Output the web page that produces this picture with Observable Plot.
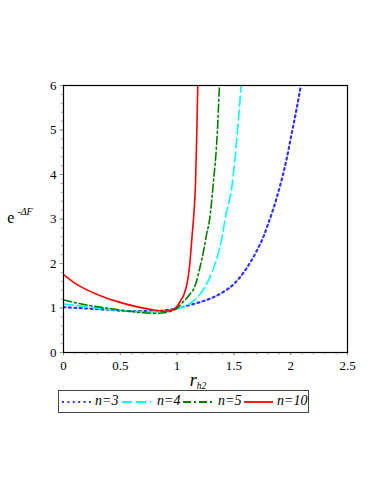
<!DOCTYPE html>
<html>
<head>
<meta charset="utf-8">
<script src="https://cdn.jsdelivr.net/npm/d3@7"></script>
<script src="https://cdn.jsdelivr.net/npm/@observablehq/plot@0.6"></script>
<style>
  html, body { margin: 0; padding: 0; background: #fff; }
  #wrap { position: relative; width: 382px; height: 494px; font-family: 'Liberation Serif', serif; }
  #legend { position: absolute; left: 58px; top: 390px; width: 251px; height: 23px; border: 1px solid #444; box-sizing: border-box; font-style: italic; font-size: 14px; font-family: 'Liberation Serif', serif; }
  #legend .sw { position: absolute; top: 6px; display: block; }
  #legend .lb { position: absolute; top: 2px; line-height: 16px; white-space: nowrap; }
</style>
</head>
<body>
<div id="wrap"></div>
<script>
// ---- data ----
const seriesNames = ["n=3", "n=4", "n=5", "n=10"];
const seriesColors = ["#3333ff", "#00ffff", "#008000", "#ff0000"];
const seriesDash = ["2,3.4", "10,4", "8,3,2,3", null];

const n3X = [0, 0.2, 0.4, 0.6, 0.8, 0.9, 1.0, 1.1, 1.2, 1.3, 1.4, 1.5, 1.6, 1.7, 1.763, 1.8, 1.85, 1.91, 1.96, 2.007, 2.05, 2.086];
const n3Y = [1.02, 0.99, 0.96, 0.93, 0.93, 0.95, 0.99, 1.06, 1.13, 1.22, 1.35, 1.54, 1.85, 2.28, 2.62, 2.88, 3.25, 3.78, 4.3, 4.9, 5.45, 5.95];

const n4X = [0, 0.2, 0.4, 0.6, 0.8, 0.9, 1.0, 1.06, 1.15, 1.24, 1.31, 1.37, 1.40, 1.42, 1.485, 1.529, 1.564, 1.58];
const n4Y = [1.09, 1.03, 0.97, 0.93, 0.91, 0.93, 0.98, 1.03, 1.17, 1.45, 1.82, 2.3, 2.65, 2.97, 3.78, 4.9, 6.0, 6.5];

const n5X = [0, 0.2, 0.4, 0.6, 0.8, 0.9, 1.0, 1.05, 1.1, 1.165, 1.2, 1.24, 1.259, 1.285, 1.318, 1.353, 1.373, 1.385];
const n5Y = [1.18, 1.07, 0.99, 0.92, 0.88, 0.9, 1.0, 1.13, 1.27, 1.55, 1.9, 2.37, 2.65, 2.97, 3.78, 4.9, 6.0, 6.6];

const n10X = [0, 0.1, 0.22, 0.37, 0.52, 0.66, 0.81, 0.88, 0.95, 1.0, 1.03, 1.06, 1.09, 1.11, 1.133, 1.15, 1.162, 1.173, 1.182, 1.19];
const n10Y = [1.75, 1.56, 1.39, 1.23, 1.11, 1.02, 0.95, 0.93, 0.95, 1.04, 1.16, 1.3, 1.58, 1.95, 2.65, 3.2, 3.78, 4.9, 6.0, 6.8];

const xTicks = [0, 0.5, 1, 1.5, 2, 2.5];
const xTickLabels = ["0", "0.5", "1", "1.5", "2", "2.5"];
const yTicks = [0, 1, 2, 3, 4, 5, 6];
const yTickLabels = ["0", "1", "2", "3", "4", "5", "6"];

// ---- build table ----
const allX = [n3X, n4X, n5X, n10X];
const allY = [n3Y, n4Y, n5Y, n10Y];
const rows = [];
seriesNames.forEach((s, i) => allX[i].forEach((x, j) => rows.push({series: s, x, y: allY[i][j]})));

const minorX = d3.range(0, 2.5001, 0.1).map(v => +v.toFixed(2));
const minorY = d3.range(0, 6.0001, 0.2).map(v => +v.toFixed(2));

const lineMarks = seriesNames.map((s, i) => Plot.line(rows.filter(r => r.series === s), {
  x: "x", y: "y", stroke: seriesColors[i], strokeWidth: i === 0 ? 2.2 : 1.6,
  strokeDasharray: seriesDash[i] || undefined, curve: "monotone-x", clip: true
}));

const serif = "'Liberation Serif', serif";

const chart = Plot.plot({
  width: 382, height: 390,
  marginLeft: 63, marginRight: 35, marginTop: 85, marginBottom: 38,
  style: {fontFamily: serif, fontSize: "13px", color: "black", background: "white"},
  x: {domain: [0, 2.5]},
  y: {domain: [0, 6]},
  marks: [
    Plot.axisX({ticks: minorX, tickSize: 2.5, text: null, stroke: "#aaa", label: null}),
    Plot.axisX({ticks: xTicks, tickSize: 3.5, tickPadding: 5, stroke: "#999", tickFormat: (d, i) => xTickLabels[i], label: null, fill: "black"}),
    Plot.axisY({ticks: minorY, tickSize: 2.5, text: null, stroke: "#aaa", label: null}),
    Plot.axisY({ticks: yTicks, tickSize: 3.5, tickPadding: 3.5, stroke: "#999", tickFormat: (d, i) => yTickLabels[i], label: null, fill: "black"}),
    ...lineMarks,
    Plot.frame({stroke: "black", strokeWidth: 1.2})
  ]
});

const wrap = document.getElementById("wrap");
wrap.appendChild(chart);

// axis titles with sub/superscripts
const svg = d3.select(chart);
const yl = svg.append("text").attr("x", 20).attr("y", 223).attr("fill", "black")
  .style("font-family", serif);
yl.append("tspan").attr("font-size", 16).text("e");
yl.append("tspan").attr("font-size", 10).attr("dy", -8).attr("dx", 1).text("\u2009-");
yl.append("tspan").attr("font-size", 10).attr("font-style", "italic").text("\u0394F");

const xl = svg.append("text").attr("x", 198).attr("y", 386).attr("fill", "black")
  .style("font-family", serif).attr("font-style", "italic");
xl.append("tspan").attr("font-size", 18).text("r");
xl.append("tspan").attr("font-size", 9.5).attr("dy", 3).text("h2");

// legend (positions relative to legend box)
const swLeft = [3, 63, 124, 185];
const lbLeft = [36, 98, 159, 218];
const legend = document.createElement("div");
legend.id = "legend";
seriesNames.forEach((s, i) => {
  const sw = d3.create("svg").attr("class", "sw").attr("width", 30).attr("height", 10)
    .style("left", swLeft[i] + "px");
  sw.append("line").attr("x1", 0).attr("x2", 29).attr("y1", 5).attr("y2", 5)
    .attr("stroke", seriesColors[i]).attr("stroke-width", i === 0 ? 2.2 : 1.8)
    .attr("stroke-dasharray", seriesDash[i]);
  legend.appendChild(sw.node());
  const t = document.createElement("span");
  t.className = "lb";
  t.textContent = s;
  t.style.left = lbLeft[i] + "px";
  legend.appendChild(t);
});
wrap.appendChild(legend);
</script>
</body>
</html>
